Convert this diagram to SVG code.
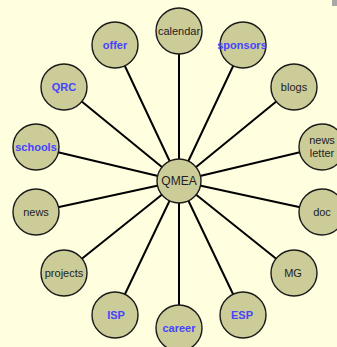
<svg xmlns="http://www.w3.org/2000/svg" width="337" height="347" viewBox="0 0 337 347">
<style>
.n circle{fill:#cccc99;stroke:#1a1a1a;stroke-width:1.4}
.n text{font-family:"Liberation Sans",Arial,sans-serif;font-size:11px;fill:#222;text-anchor:middle}
.n text.b{font-weight:bold;fill:#4444ff}
#edges line{stroke:#000;stroke-width:2}
</style>
<rect width="337" height="347" fill="#ffffe0"/>
<rect x="332" y="0" width="5" height="6" fill="#a8a8a8"/>
<g id="edges">
<line x1="179" y1="181" x2="179" y2="31"/>
<line x1="179" y1="181" x2="115" y2="45"/>
<line x1="179" y1="181" x2="243" y2="45"/>
<line x1="179" y1="181" x2="64" y2="87"/>
<line x1="179" y1="181" x2="294" y2="87"/>
<line x1="179" y1="181" x2="36" y2="147"/>
<line x1="179" y1="181" x2="322" y2="147"/>
<line x1="179" y1="181" x2="36" y2="212"/>
<line x1="179" y1="181" x2="322" y2="212"/>
<line x1="179" y1="181" x2="64" y2="273"/>
<line x1="179" y1="181" x2="294" y2="273"/>
<line x1="179" y1="181" x2="115" y2="315"/>
<line x1="179" y1="181" x2="243" y2="315"/>
<line x1="179" y1="181" x2="179" y2="328"/>
</g>
<g id="calendar" class="n"><circle cx="179" cy="31" r="23"/><text x="179" y="35">calendar</text></g>
<g id="offer" class="n"><circle cx="115" cy="45" r="23"/><text class="b" x="115" y="49">offer</text></g>
<g id="sponsors" class="n"><circle cx="243" cy="45" r="23"/><text class="b" x="242" y="49">sponsors</text></g>
<g id="QRC" class="n"><circle cx="64" cy="87" r="23"/><text class="b" x="64" y="91">QRC</text></g>
<g id="blogs" class="n"><circle cx="294" cy="87" r="23"/><text x="294" y="91">blogs</text></g>
<g id="schools" class="n"><circle cx="36" cy="147" r="23"/><text class="b" x="36" y="151">schools</text></g>
<g id="newsletter" class="n"><circle cx="322" cy="147" r="23"/><text x="322" y="144">news</text><text x="322" y="157">letter</text></g>
<g id="news" class="n"><circle cx="36" cy="212" r="23"/><text x="36" y="216">news</text></g>
<g id="doc" class="n"><circle cx="322" cy="212" r="23"/><text x="322" y="216">doc</text></g>
<g id="projects" class="n"><circle cx="64" cy="273" r="23"/><text x="64" y="277">projects</text></g>
<g id="MG" class="n"><circle cx="294" cy="273" r="23"/><text x="293" y="277">MG</text></g>
<g id="ISP" class="n"><circle cx="115" cy="315" r="23"/><text class="b" x="116" y="319">ISP</text></g>
<g id="ESP" class="n"><circle cx="243" cy="315" r="23"/><text class="b" x="242" y="319">ESP</text></g>
<g id="career" class="n"><circle cx="179" cy="328" r="23"/><text class="b" x="179" y="332">career</text></g>
<g id="QMEA" class="n"><circle cx="179" cy="181" r="22"/><text x="179" y="185" style="font-size:12px">QMEA</text></g>
</svg>
